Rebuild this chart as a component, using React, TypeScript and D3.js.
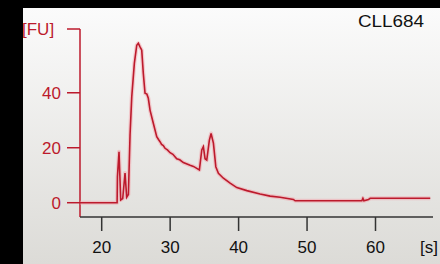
import React from "react";
import * as d3 from "d3";

const times = [16.83, 22.25, 22.3, 22.53, 22.78, 23.07, 23.41, 23.65, 23.9, 24.14, 24.39, 24.77, 25.12, 25.35, 25.6, 25.85, 26.08, 26.33, 26.6, 26.81, 27.06, 27.54, 28.04, 28.3, 28.52, 28.75, 29.0, 29.25, 29.6, 29.99, 30.4, 30.96, 31.4, 31.93, 32.91, 33.4, 33.89, 34.27, 34.62, 34.85, 35.1, 35.35, 35.73, 35.98, 36.32, 36.67, 37.05, 37.78, 38.76, 39.74, 41.2, 43.14, 44.6, 46.06, 48.0, 48.26, 58.0, 58.16, 58.3, 58.98, 59.22, 68.0];
const fu = [0, 0, 9.5, 18.5, 1, 1.5, 10.8, 2, 3, 24.6, 38.5, 50.7, 57.3, 58, 56.7, 55.5, 47, 39.8, 39.5, 38, 33.7, 28.9, 24, 23, 22.2, 21.2, 20.8, 19.8, 19.2, 18.2, 17.6, 16, 15.6, 14.6, 13.6, 13.2, 12.5, 11.9, 19.2, 20.4, 16, 15.5, 22.8, 25.2, 21.7, 13.1, 10.7, 8.9, 7.1, 5.5, 4.4, 3.2, 2.4, 2, 1.2, 0.7, 0.7, 1.6, 0.7, 1.2, 1.6, 1.6];
const xTicks = [20, 30, 40, 50, 60];
const yTicks = [0, 20, 40];
const title = "CLL684";
const yUnit = "[FU]";
const xUnit = "[s]";

export default function App() {
  const W = 440, H = 264;
  const x = d3.scaleLinear().domain([16.83, 68.4]).range([80, 433]);
  const y = d3.scaleLinear().domain([-5.2, 63.2]).range([217, 29]);
  const line = d3.line<number>().x((d, i) => x(times[i])).y((d) => y(d)).curve(d3.curveLinear);
  const path = line(fu) || "";
  const red = "#bc1a2c";
  const font = "'Liberation Sans', Arial, sans-serif";
  return (
    <svg width={W} height={H} style={{ position: "absolute", left: 0, top: 0 }}>
      <defs>
        <linearGradient id="bg" x1="0" y1="0" x2="0" y2="1">
          <stop offset="0" stopColor="#fbfbfb" />
          <stop offset="1" stopColor="#dcdbd7" />
        </linearGradient>
      </defs>
      <rect x={0} y={0} width={W} height={H} fill="#000" />
      <rect x={23} y={8} width={W - 23} height={H - 8} fill="url(#bg)" />
      <line x1={80} x2={80} y1={29} y2={217} stroke={red} strokeWidth={1.5} />
      <line x1={67} x2={80} y1={29} y2={29} stroke={red} strokeWidth={1.5} />
      {yTicks.map((t) => (
        <g key={t}>
          <line x1={67} x2={80} y1={y(t)} y2={y(t)} stroke={red} strokeWidth={1.5} />
          <text x={61} y={y(t)} dy="0.36em" textAnchor="end" fontFamily={font} fontSize={17} fill={red}>{t}</text>
        </g>
      ))}
      <text x={22} y={29} dy="0.36em" fontFamily={font} fontSize={17} fill={red}>{yUnit}</text>
      <line x1={80} x2={433} y1={217} y2={217} stroke="#333" strokeWidth={1.5} />
      {xTicks.map((t) => (
        <g key={t}>
          <line x1={x(t)} x2={x(t)} y1={217} y2={231} stroke="#333" strokeWidth={1.5} />
          <text x={x(t)} y={247} dy="0.36em" textAnchor="middle" fontFamily={font} fontSize={17} fill="#111">{t}</text>
        </g>
      ))}
      <text x={420} y={247} dy="0.36em" fontFamily={font} fontSize={17} fill="#111">{xUnit}</text>
      <text x={358} y={21} dy="0.36em" fontFamily={font} fontSize={16} fill="#111" textLength={66} lengthAdjust="spacingAndGlyphs">{title}</text>
      <path d={path} fill="none" stroke="#f4a0a8" strokeWidth={4} strokeOpacity={0.5} strokeLinejoin="round" />
      <path d={path} fill="none" stroke={red} strokeWidth={1.6} strokeLinejoin="miter" />
    </svg>
  );
}
